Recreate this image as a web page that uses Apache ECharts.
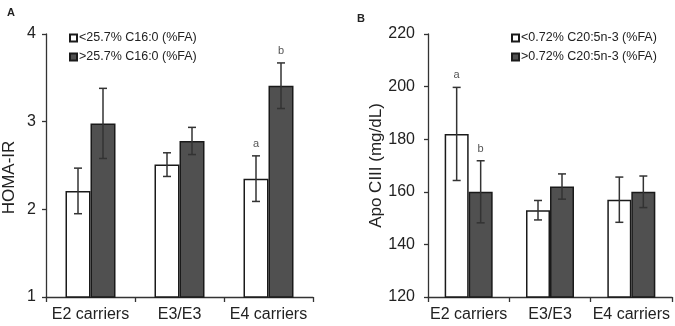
<!DOCTYPE html>
<html>
<head>
<meta charset="utf-8">
<script src="https://cdn.jsdelivr.net/npm/echarts@6/dist/echarts.min.js"></script>
<style>
  html, body { margin: 0; padding: 0; background: #fff; }
  #chart { width: 675px; height: 326px; }
</style>
</head>
<body>
<div id="chart"></div>
<script>
// categories
const categories = ['E2 carriers', 'E3/E3', 'E4 carriers'];

// panel A: HOMA-IR by C16:0 group
const homaLow = [2.21, 2.51, 2.35];
const homaLowErr = [0.26, 0.135, 0.26];
const homaLowMark = ['', '', 'a'];
const homaHigh = [2.98, 2.78, 3.41];
const homaHighErr = [0.40, 0.155, 0.26];
const homaHighMark = ['', '', 'b'];

// panel B: Apo CIII by C20:5n-3 group
const apoLow = [182, 153, 157];
const apoLowErr = [17.7, 3.7, 8.6];
const apoLowMark = ['a', '', ''];
const apoHigh = [160, 162, 160];
const apoHighErr = [11.8, 4.8, 6];
const apoHighMark = ['b', '', ''];

const nameA = ['<25.7% C16:0 (%FA)', '>25.7% C16:0 (%FA)'];
const nameB = ['<0.72% C20:5n-3 (%FA)', '>0.72% C20:5n-3 (%FA)'];

const FONT = '"Liberation Sans", Arial, sans-serif';
const lightStyle = { color: '#ffffff', borderColor: '#1a1a1a', borderWidth: 1.5 };
const darkStyle = { color: '#505050', borderColor: '#1a1a1a', borderWidth: 1.5 };

const chart = echarts.init(document.getElementById('chart'));

// error bars + letters as a custom series
function errSeries(idx, values, errs, marks, shift) {
  return {
    type: 'custom',
    xAxisIndex: idx,
    yAxisIndex: idx,
    z: 5,
    silent: true,
    data: values.map((v, i) => [i, v, errs[i]]),
    encode: { x: 0, y: 1 },
    renderItem(params, api) {
      const i = api.value(0), v = api.value(1), e = api.value(2);
      const top = api.coord([i, v + e]);
      const bot = api.coord([i, v - e]);
      const x = top[0] + shift;
      const st = { stroke: '#333', lineWidth: 1.5 };
      const kids = [
        { type: 'line', shape: { x1: x, y1: top[1], x2: x, y2: bot[1] }, style: st },
        { type: 'line', shape: { x1: x - 4, y1: top[1], x2: x + 4, y2: top[1] }, style: st },
        { type: 'line', shape: { x1: x - 4, y1: bot[1], x2: x + 4, y2: bot[1] }, style: st }
      ];
      const m = marks[params.dataIndex];
      if (m) {
        kids.push({
          type: 'text',
          style: { x: x, y: top[1] - 12, text: m, fill: '#555', font: '11px ' + FONT, align: 'center', verticalAlign: 'middle' }
        });
      }
      return { type: 'group', children: kids };
    }
  };
}

function xAxisCfg(idx) {
  return {
    type: 'category',
    gridIndex: idx,
    data: categories,
    axisLine: { lineStyle: { color: '#333', width: 1.3 } },
    axisTick: { show: true, length: 5, lineStyle: { color: '#333', width: 1.3 } },
    axisLabel: { interval: 0, color: '#222', fontSize: 16, fontFamily: FONT, margin: 10 }
  };
}

function yAxisCfg(idx, min, max, interval, name, gap, labelMargin, pad) {
  return {
    type: 'value',
    gridIndex: idx,
    min: min, max: max, interval: interval,
    name: name,
    nameLocation: 'middle',
    nameGap: gap,
    nameTextStyle: { color: '#222', fontSize: 17, fontFamily: FONT, padding: pad },
    axisLine: { show: true, lineStyle: { color: '#333', width: 1.3 } },
    axisTick: { show: true, length: 4, lineStyle: { color: '#333', width: 1.3 } },
    axisLabel: { color: '#222', fontSize: 16, fontFamily: FONT, margin: labelMargin },
    splitLine: { show: false }
  };
}

function legendCfg(names, left) {
  return {
    data: names,
    orient: 'vertical',
    left: left,
    top: 26,
    icon: 'rect',
    itemWidth: 7,
    itemHeight: 7,
    itemGap: 5,
    selectedMode: false,
    textStyle: { color: '#222', fontSize: 12.5, fontFamily: FONT, lineHeight: 14, padding: [0, 0, 0, -3] }
  };
}

const BW_A = 25, BW_B = 24;

const option = {
  animation: false,
  title: [
    { text: 'A', left: 2, top: 2, textStyle: { fontSize: 11, fontWeight: 'bold', color: '#222', fontFamily: FONT } },
    { text: 'B', left: 352, top: 8, textStyle: { fontSize: 11, fontWeight: 'bold', color: '#222', fontFamily: FONT } }
  ],
  legend: [legendCfg(nameA, 64), legendCfg(nameB, 506)],
  grid: [
    { left: 46, top: 34, width: 267, height: 263 },
    { left: 428, top: 34, width: 244, height: 263 }
  ],
  xAxis: [xAxisCfg(0), xAxisCfg(1)],
  yAxis: [
    yAxisCfg(0, 1, 4, 1, 'HOMA-IR', 28, 10, [0, 24, 0, 0]),
    yAxisCfg(1, 120, 220, 20, 'Apo CIII (mg/dL)', 24, 13, [0, 0, 0, 0])
  ],
  series: [
    { name: nameA[0], type: 'bar', xAxisIndex: 0, yAxisIndex: 0, data: homaLow, barWidth: BW_A, barGap: '0%', itemStyle: lightStyle },
    { name: nameA[1], type: 'bar', xAxisIndex: 0, yAxisIndex: 0, data: homaHigh, barWidth: BW_A, barGap: '0%', itemStyle: darkStyle },
    { name: nameB[0], type: 'bar', xAxisIndex: 1, yAxisIndex: 1, data: apoLow, barWidth: BW_B, barGap: '0%', itemStyle: lightStyle },
    { name: nameB[1], type: 'bar', xAxisIndex: 1, yAxisIndex: 1, data: apoHigh, barWidth: BW_B, barGap: '0%', itemStyle: darkStyle },
    errSeries(0, homaLow, homaLowErr, homaLowMark, -BW_A / 2),
    errSeries(0, homaHigh, homaHighErr, homaHighMark, BW_A / 2),
    errSeries(1, apoLow, apoLowErr, apoLowMark, -BW_B / 2),
    errSeries(1, apoHigh, apoHighErr, apoHighMark, BW_B / 2)
  ]
};

chart.setOption(option);
</script>
</body>
</html>
